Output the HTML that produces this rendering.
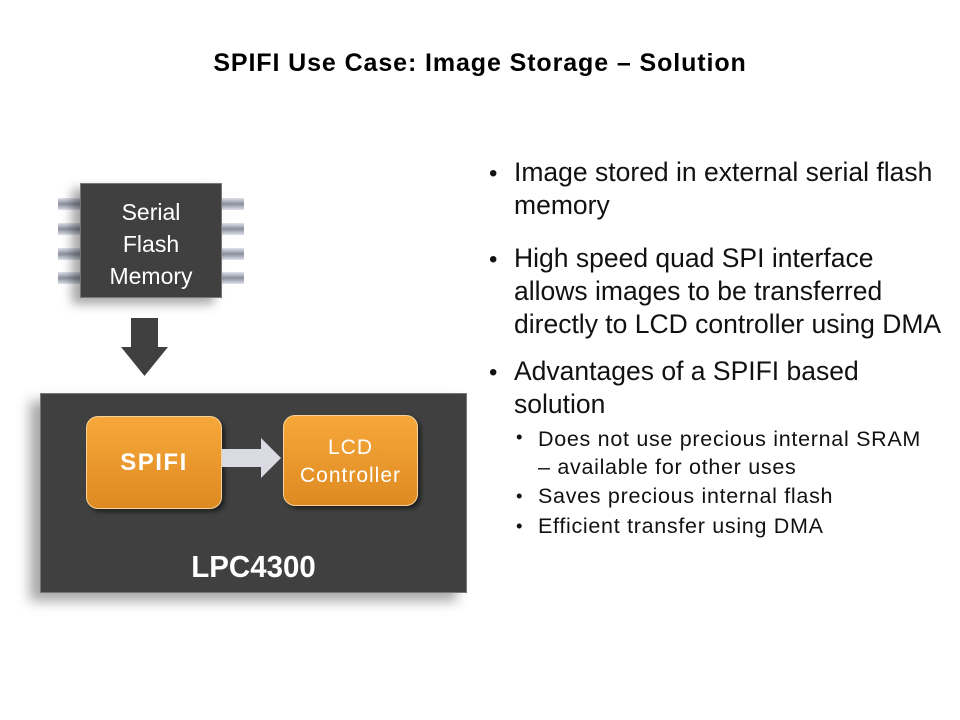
<!DOCTYPE html>
<html><head><style>
body{margin:0;width:960px;height:720px;background:#fff;position:relative;font-family:"Liberation Sans",Arial,sans-serif;overflow:hidden}
.a{position:absolute}
.title{left:0;width:960px;top:49px;text-align:center;font-weight:bold;font-size:25px;letter-spacing:0.9px;color:#000}
.pin{position:absolute;width:22px;height:12px;background:linear-gradient(#dfe2ea,#8a8f9c 50%,#dfe2ea)}
.ob{position:absolute;border-radius:12px;background:linear-gradient(#f7a83a,#de8a22);border:1px solid #f6d39c;color:#fff;text-align:center;box-shadow:3px 3px 4px rgba(0,0,0,.5)}
.t{position:absolute;left:514px;font-size:26.5px;color:#111;line-height:33px;white-space:nowrap}
.b{position:absolute;left:489px;font-size:24px;color:#111}
.s{position:absolute;left:538px;font-size:21.5px;letter-spacing:0.7px;color:#111;white-space:nowrap}
.sb{position:absolute;left:516px;font-size:18.5px;color:#111}
</style></head><body>
<div class="a title">SPIFI Use Case: Image Storage – Solution</div>

<div class="pin" style="left:58px;top:198px"></div>
<div class="pin" style="left:58px;top:223px"></div>
<div class="pin" style="left:58px;top:248px"></div>
<div class="pin" style="left:58px;top:272px"></div>
<div class="pin" style="left:222px;top:198px"></div>
<div class="pin" style="left:222px;top:223px"></div>
<div class="pin" style="left:222px;top:248px"></div>
<div class="pin" style="left:222px;top:272px"></div>
<div class="a" style="left:80px;top:183px;width:142px;height:115px;background:#404040;border:1px solid #777;box-shadow:-8px 6px 10px rgba(0,0,0,.35);color:#fff;font-size:23px;text-align:center;line-height:32px;padding-top:12px;box-sizing:border-box">Serial<br>Flash<br>Memory</div>

<svg class="a" style="left:0;top:0" width="960" height="720">
<polygon points="131,318 158,318 158,347 168,347 144.5,376 121,347 131,347" fill="#404040"/>
</svg>

<div class="a" style="left:40px;top:393px;width:427px;height:200px;background:#404040;border:1px solid #777;box-sizing:border-box;box-shadow:-10px 8px 12px rgba(0,0,0,.35)"></div>
<div class="ob" style="left:86px;top:416px;width:134px;height:91px;line-height:91px;font-size:24px;letter-spacing:1.5px;font-weight:bold">SPIFI</div>
<svg class="a" style="left:0;top:0" width="960" height="720">
<polygon points="222,449 261,449 261,438 281,458 261,478 261,467 222,467" fill="#d9dae2"/>
</svg>
<div class="ob" style="left:283px;top:415px;width:135px;height:91px;font-size:21px;letter-spacing:1px;line-height:28px;padding-top:18px;box-sizing:border-box">LCD<br>Controller</div>
<div class="a" style="left:40px;top:549px;width:427px;text-align:center;color:#fff;font-weight:bold;font-size:31px;transform:scaleX(0.95)">LPC4300</div>

<div class="b" style="top:160px">•</div>
<div class="t" style="top:156px">Image stored in external serial flash<br>memory</div>
<div class="b" style="top:246px">•</div>
<div class="t" style="top:242px">High speed quad SPI interface<br>allows images to be transferred<br>directly to LCD controller using DMA</div>
<div class="b" style="top:359px">•</div>
<div class="t" style="top:355px">Advantages of a SPIFI based<br>solution</div>
<div class="sb" style="top:426px">•</div>
<div class="s" style="top:425px;line-height:28px">Does not use precious internal SRAM<br>– available for other uses</div>
<div class="sb" style="top:485px">•</div>
<div class="s" style="top:484px">Saves precious internal flash</div>
<div class="sb" style="top:515px">•</div>
<div class="s" style="top:514px">Efficient transfer using DMA</div>
</body></html>
